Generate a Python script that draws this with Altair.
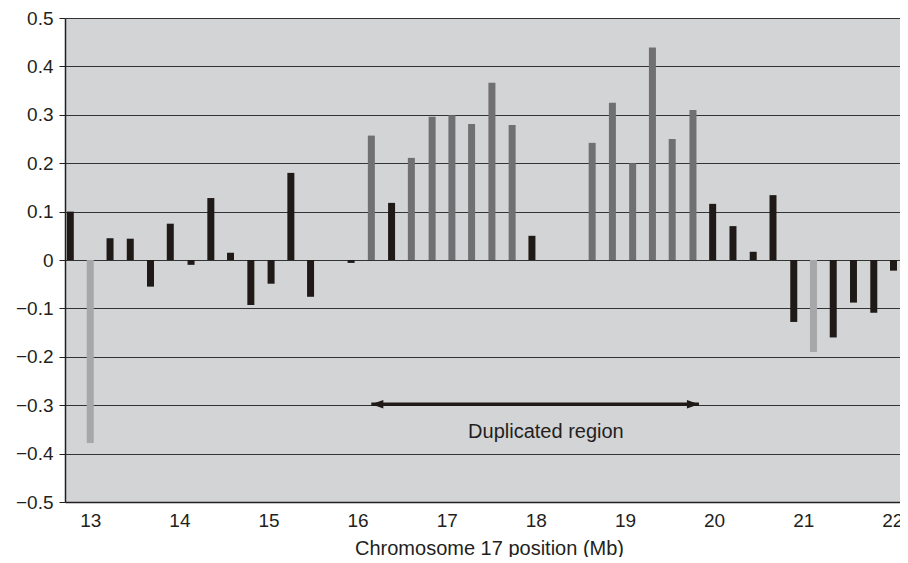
import altair as alt
import pandas as pd

# Bar positions (Mb) and values
positions = [12.776, 13.000, 13.222, 13.449, 13.676, 13.898, 14.131, 14.353, 14.574, 14.802,
             15.029, 15.251, 15.472, 15.927, 16.154, 16.381, 16.603, 16.836, 17.058, 17.279,
             17.507, 17.734, 17.956, 18.632, 18.859, 19.086, 19.308, 19.530, 19.763, 19.984,
             20.212, 20.439, 20.661, 20.894, 21.115, 21.337, 21.564, 21.792, 22.013]
values = [0.100, -0.378, 0.045, 0.044, -0.055, 0.075, -0.010, 0.128, 0.015, -0.093,
          -0.049, 0.180, -0.076, -0.006, 0.257, 0.118, 0.211, 0.296, 0.299, 0.281,
          0.366, 0.279, 0.050, 0.242, 0.325, 0.200, 0.439, 0.250, 0.310, 0.116,
          0.070, 0.017, 0.134, -0.128, -0.190, -0.160, -0.088, -0.109, -0.022]
groups = ["dark", "light", "dark", "dark", "dark", "dark", "dark", "dark", "dark", "dark",
          "dark", "dark", "dark", "dark", "mid", "dark", "mid", "mid", "mid", "mid",
          "mid", "mid", "dark", "mid", "mid", "mid", "mid", "mid", "mid", "dark",
          "dark", "dark", "dark", "dark", "light", "dark", "dark", "dark", "dark"]

group_names = ["dark", "mid", "light"]
group_colors = ["#1f1a17", "#707073", "#a5a7a9"]

x_ticks = [13, 14, 15, 16, 17, 18, 19, 20, 21, 22]
y_ticks = [-0.5, -0.4, -0.3, -0.2, -0.1, 0, 0.1, 0.2, 0.3, 0.4, 0.5]

arrow_start = [16.154]
arrow_end = [19.830]
arrow_level = [-0.298]
label_text = ["Duplicated region"]
label_x = [18.113]
label_y = [-0.368]

x_domain = [12.7727, 22.030]
y_domain = [-0.5, 0.5]

df = pd.DataFrame({"pos": positions, "val": values, "grp": groups})
arrow_df = pd.DataFrame({"x1": arrow_start, "x2": arrow_end, "y": arrow_level})
left_df = pd.DataFrame({"x": arrow_start, "y": arrow_level})
right_df = pd.DataFrame({"x": arrow_end, "y": arrow_level})
text_df = pd.DataFrame({"t": label_text, "x": label_x, "y": label_y})

FONT = "Liberation Sans"
INK = "#231f20"

x_scale = alt.Scale(domain=x_domain, nice=False, zero=False)
y_scale = alt.Scale(domain=y_domain, nice=False)

bars = alt.Chart(df).mark_bar(size=7, clip=True).encode(
    x=alt.X("pos:Q", scale=x_scale,
            axis=alt.Axis(values=x_ticks, format="d", title="Chromosome 17 position (Mb)",
                          grid=False, ticks=False, tickSize=0, labelPadding=9,
                          titleX=424, titleY=52, titleBaseline="alphabetic",
                          titleAlign="center", titleAnchor="start",
                          domainColor=INK, domainWidth=1.5)),
    y=alt.Y("val:Q", scale=y_scale,
            axis=alt.Axis(values=y_ticks, format=".1~f", title=None, grid=True,
                          gridColor="#333333", gridWidth=1.2, tickSize=6, labelPadding=6,
                          tickColor=INK, domainColor=INK, domainWidth=1.5)),
    y2=alt.datum(0),
    color=alt.Color("grp:N", scale=alt.Scale(domain=group_names, range=group_colors), legend=None),
)

shaft = alt.Chart(arrow_df).mark_rule(strokeWidth=3.5, color="#1f1a17").encode(
    x=alt.X("x1:Q", scale=x_scale), x2="x2:Q", y=alt.Y("y:Q", scale=y_scale)
)

left_head = alt.Chart(left_df).mark_point(
    shape="M -1 0 L 1 -0.7 L 1 0.7 Z", filled=True, size=144, opacity=1,
    color="#1f1a17", xOffset=6
).encode(x=alt.X("x:Q", scale=x_scale), y=alt.Y("y:Q", scale=y_scale))

right_head = alt.Chart(right_df).mark_point(
    shape="M 1 0 L -1 -0.7 L -1 0.7 Z", filled=True, size=144, opacity=1,
    color="#1f1a17", xOffset=-6
).encode(x=alt.X("x:Q", scale=x_scale), y=alt.Y("y:Q", scale=y_scale))

label = alt.Chart(text_df).mark_text(font=FONT, fontSize=20, color=INK,
                                     align="center", baseline="alphabetic").encode(
    x=alt.X("x:Q", scale=x_scale), y=alt.Y("y:Q", scale=y_scale), text="t:N"
)

chart = alt.layer(bars, shaft, left_head, right_head, label).properties(
    width=835, height=484,
    autosize=alt.AutoSizeParams(type="none"),
    padding={"left": 57, "top": 10, "right": 0, "bottom": 55},
    background="white",
).configure_view(
    fill="#d3d4d6", stroke=None
).configure_axis(
    labelFont=FONT, titleFont=FONT, labelFontSize=19, titleFontSize=20,
    labelColor=INK, titleColor=INK, titleFontWeight="normal",
)

chart.save("out.html", embed_options={"renderer": "svg", "actions": False})
